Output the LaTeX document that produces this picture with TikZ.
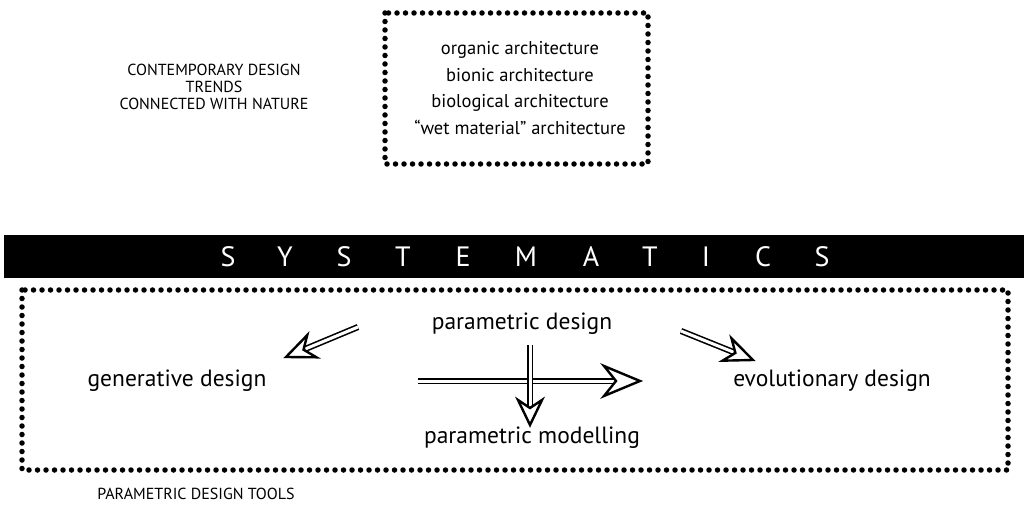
\documentclass[tikz,border=0pt]{standalone}
\usepackage{fontspec}
\setmainfont{PT Sans}
\usetikzlibrary{calc}
\begin{document}
\begin{tikzpicture}[x=1pt,y=-1pt,
  dotbox/.style={line width=5.5pt, line cap=round, dash pattern=on 0pt off 8.5pt},
  lbl/.style={font=\fontsize{23.5}{26}\selectfont, inner sep=0pt, text=black},
  small/.style={font=\fontsize{16}{17}\selectfont, inner sep=0pt, align=center, text=black},
  shaft/.style={double=white, double distance=3pt, line width=1.6pt},
  headst/.style={line width=2.4pt, fill=white, line join=miter}]
\useasboundingbox (0,0) rectangle (1024,510);
% top dotted box
\draw[dotbox] (385,13) rectangle (648,164);
\node[lbl, align=center, font=\fontsize{18.5}{26.5}\selectfont] (trends) at (520,88)
  {organic architecture\\bionic architecture\\biological architecture\\``wet material'' architecture};
\node[small] (contemp) at (214,87) {CONTEMPORARY DESIGN\\TRENDS\\CONNECTED WITH NATURE};
% black band
\fill[black] (4,235) rectangle (1024,278);
\foreach \ch/\xx [count=\i] in {S/228,Y/285,S/344,T/403,E/463,M/526,A/591,T/650,I/706,C/763,S/822}
  \node[text=white, font=\fontsize{28}{28}\selectfont, inner sep=0pt] (sys\i) at (\xx,257) {\ch};
% bottom dotted box
\draw[dotbox] (22,290) rectangle (1008,470);
\node[small] (tools) at (196,494) {PARAMETRIC DESIGN TOOLS};
% labels
\node[lbl] (pd) at (522,324) {parametric design};
\node[lbl] (gd) at (177,381) {generative design};
\node[lbl] (ed) at (832,381) {evolutionary design};
\node[lbl] (pm) at (532,438) {parametric modelling};
% arrows: name, start, tip, head length, notch, half width
\newcommand{\hollowarrow}[6]{%
  \coordinate (#1b) at ($(#3)!#4pt!(#2)$);
  \coordinate (#1n) at ($(#3)!#5pt!(#2)$);
  \draw[shaft] (#2) -- ($(#3)!#5pt+2pt!(#2)$);
  \draw[headst] (#3) -- ($(#1b)!#6pt!90:(#3)$) -- (#1n) -- ($(#1b)!#6pt!-90:(#3)$) -- cycle;
}
\coordinate (hs) at (418,381);
\coordinate (he) at (640,381);
\coordinate (vs) at (530,345);
\coordinate (ve) at (530,425);
\coordinate (ls) at (358,327);
\coordinate (le) at (286,357);
\coordinate (rs) at (681,331);
\coordinate (re) at (753,360);
\hollowarrow{h}{hs}{he}{36}{24}{15}
\hollowarrow{v}{vs}{ve}{25}{17}{12}
\hollowarrow{l}{ls}{le}{28}{19}{12}
\hollowarrow{r}{rs}{re}{28}{19}{12}
\end{tikzpicture}
\end{document}
